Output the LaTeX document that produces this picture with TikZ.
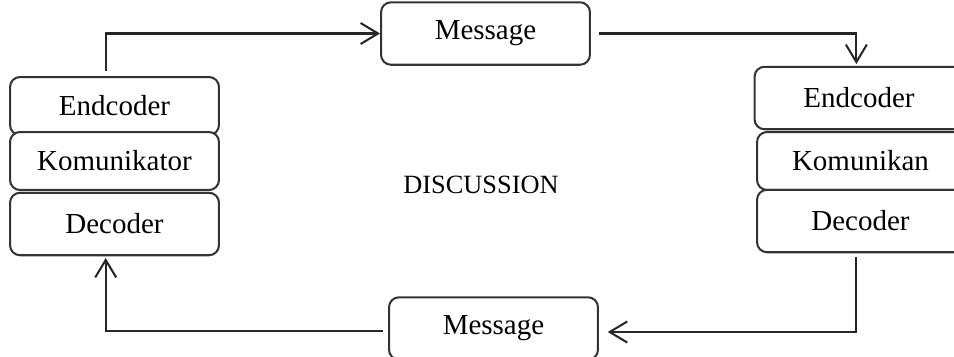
\documentclass[tikz,border=0pt]{standalone}
\usepackage{fontspec}
\setmainfont{Liberation Serif}
\usetikzlibrary{arrows.meta}

\begin{document}
\begin{tikzpicture}[x=0.02cm,y=-0.02cm,
    box/.style={draw=black!80, line width=1.15pt, rounded corners=2mm, fill=white,
                minimum width=4.18cm, minimum height=1.16cm, inner sep=0pt,
                font=\fontsize{16.5}{20}\selectfont},
    tallbox/.style={box, minimum height=1.25cm},
    arr/.style={draw=black!85, line width=1.15pt, -{Straight Barb[length=3.5mm,width=4.2mm]}}]
\clip (0,0) rectangle (954,356);

% sender
\node[box] (lEnc) at (114.5,106) {Endcoder};
\node[box] (lKom) at (114.5,161) {Komunikator};
\node[tallbox] (lDec) at (114.5,224) {Decoder};

% receiver
\node[tallbox] (rEnc) at (859,98) {Endcoder};
\node[box, minimum width=4.14cm] (rKom) at (860.5,161) {Komunikan};
\node[tallbox, minimum width=4.14cm] (rDec) at (860.5,221) {Decoder};

\node[tallbox] (msgT) at (485.5,33.5) {Message};
\node[tallbox] (msgB) at (493.5,328.5) {Message};

\node[font=\fontsize{15}{18}\selectfont] (disc) at (481,185) {DISCUSSION};

\draw[arr] ([xshift=-5pt,yshift=3pt]lEnc.north) |- (msgT.west);
\draw[arr] ([xshift=4.5pt]msgT.east) -| ([xshift=-1.5pt,yshift=1pt]rEnc.north);
\draw[arr] ([xshift=-2.5pt,yshift=-2pt]rDec.south) |- ([xshift=5pt,yshift=-2pt]msgB.east);
\draw[arr] ([xshift=-3pt,yshift=-1.5pt]msgB.west) -| ([xshift=-5pt,yshift=-1pt]lDec.south);
\end{tikzpicture}
\end{document}
